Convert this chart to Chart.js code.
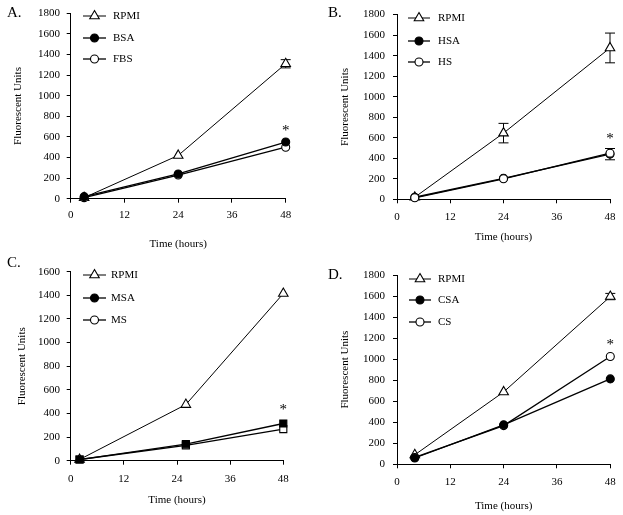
<!DOCTYPE html>
<html><head><meta charset="utf-8">
<script src="https://cdn.jsdelivr.net/npm/chart.js@4.4.1/dist/chart.umd.min.js"></script>
<style>
html,body{margin:0;padding:0;background:#fff;width:623px;height:515px;overflow:hidden}
.p{position:absolute}
.lbl{position:absolute;font-family:"Liberation Serif",serif;font-size:15px;color:#000;line-height:15px}
</style></head><body>
<div class="p" style="left:0;top:0"><canvas id="cA" width="311" height="255" style="width:311px;height:255px"></canvas></div>
<div class="p" style="left:311px;top:0"><canvas id="cB" width="312" height="255" style="width:312px;height:255px"></canvas></div>
<div class="p" style="left:0;top:255px"><canvas id="cC" width="311" height="260" style="width:311px;height:260px"></canvas></div>
<div class="p" style="left:311px;top:255px"><canvas id="cD" width="312" height="260" style="width:312px;height:260px"></canvas></div>
<div class="lbl" id="lA" style="left:7px;top:5px"></div>
<div class="lbl" id="lB" style="left:328px;top:5px"></div>
<div class="lbl" id="lC" style="left:7px;top:255px"></div>
<div class="lbl" id="lD" style="left:328px;top:267px"></div>
<script>
// ---------- data ----------
const panelLabels = ['A.', 'B.', 'C.', 'D.'];
const xTitle = 'Time (hours)';
const yTitle = 'Fluorescent Units';
const xTicks = [0, 12, 24, 36, 48];

// Panel A
const timesA = [3, 24, 48];
const namesA = ['RPMI', 'BSA', 'FBS'];
const rpmiA = [10, 420, 1310];
const rpmiErrA = [0, 0, 40];
const bsaA = [20, 240, 550];
const fbsA = [10, 230, 500];
const starA = [48, 690];

// Panel B
const timesB = [4, 24, 48];
const namesB = ['RPMI', 'HSA', 'HS'];
const rpmiB = [20, 645, 1475];
const rpmiErrB = [0, 95, 145];
const hsaB = [20, 205, 440];
const hsaErrB = [0, 0, 55];
const hsB = [15, 200, 450];
const starB = [48, 620];

// Panel C
const timesC = [2, 26, 48];
const namesC = ['RPMI', 'MSA', 'MS'];
const rpmiC = [10, 475, 1415];
const msaC = [10, 140, 315];
const msC = [10, 130, 268];
const starC = [48, 452];

// Panel D
const timesD = [4, 24, 48];
const namesD = ['RPMI', 'CSA', 'CS'];
const rpmiD = [90, 688, 1595];
const rpmiErrD = [0, 0, 30];
const csaD = [60, 375, 812];
const csD = [65, 368, 1025];
const starD = [48, 1160];

// ---------- helpers ----------
const FONT = '"Liberation Serif", "Times New Roman", serif';
const pts = (t, v) => t.map((x, i) => ({x: x, y: v[i]}));

function triSeries(label, t, v, err) {
  return {label, data: pts(t, v), errors: err, pointStyle: 'triangle', pointRadius: 5.5,
    pointBackgroundColor: '#fff', pointBorderColor: '#000', pointBorderWidth: 1.1,
    borderColor: '#000', borderWidth: 1, order: 3};
}
function dotSeries(label, t, v, filled, order, err, style) {
  return {label, data: pts(t, v), errors: err, pointStyle: style || 'circle',
    legendStyle: 'circle', pointRadius: style === 'rect' ? 5 : 4,
    pointBackgroundColor: filled ? '#000' : '#fff', pointBorderColor: '#000', pointBorderWidth: 1.1,
    borderColor: '#000', borderWidth: 1.3, order};
}

const errorBars = {
  id: 'errorBars',
  beforeDatasetsDraw(chart) {
    const ctx = chart.ctx, ys = chart.scales.y;
    ctx.save();
    ctx.strokeStyle = '#000'; ctx.lineWidth = 1;
    chart.data.datasets.forEach((ds, i) => {
      if (!ds.errors) return;
      const meta = chart.getDatasetMeta(i);
      ds.data.forEach((p, j) => {
        const e = ds.errors[j];
        if (!e) return;
        const x = meta.data[j].x;
        const t = ys.getPixelForValue(p.y + e), b = ys.getPixelForValue(p.y - e);
        ctx.beginPath();
        ctx.moveTo(x, t); ctx.lineTo(x, b);
        ctx.moveTo(x - 5, t); ctx.lineTo(x + 5, t);
        ctx.moveTo(x - 5, b); ctx.lineTo(x + 5, b);
        ctx.stroke();
      });
    });
    ctx.restore();
  }
};

const lineLegend = {
  id: 'lineLegend',
  afterDraw(chart, args, o) {
    if (!o || !o.rows) return;
    const ctx = chart.ctx;
    ctx.save();
    chart.data.datasets.forEach((ds, i) => {
      const y = o.rows[i];
      ctx.strokeStyle = '#000'; ctx.lineWidth = ds.borderWidth;
      ctx.beginPath(); ctx.moveTo(o.x1, y); ctx.lineTo(o.x2, y); ctx.stroke();
      ctx.fillStyle = ds.pointBackgroundColor; ctx.strokeStyle = ds.pointBorderColor;
      ctx.lineWidth = ds.pointBorderWidth;
      Chart.helpers.drawPoint(ctx, {pointStyle: ds.legendStyle || ds.pointStyle,
        radius: ds.legendStyle ? 4 : ds.pointRadius, borderWidth: ds.pointBorderWidth, rotation: 0},
        (o.x1 + o.x2) / 2, y);
      ctx.fillStyle = '#000';
      ctx.font = '11px ' + FONT;
      ctx.textBaseline = 'middle'; ctx.textAlign = 'left';
      ctx.fillText(ds.label, o.tx, y + 0.5);
    });
    ctx.restore();
  }
};

const starMark = {
  id: 'starMark',
  afterDraw(chart, args, o) {
    if (!o || !o.at) return;
    const ctx = chart.ctx;
    const x = chart.scales.x.getPixelForValue(o.at[0]);
    const y = chart.scales.y.getPixelForValue(o.at[1]);
    ctx.save();
    ctx.fillStyle = '#000';
    ctx.font = '15px ' + FONT;
    ctx.textAlign = 'center'; ctx.textBaseline = 'alphabetic';
    ctx.fillText('*', x, y + 7);
    ctx.restore();
  }
};

function makePanel(id, g, datasets, yMax, star) {
  const font = {family: FONT, size: 11};
  return new Chart(document.getElementById(id), {
    type: 'line',
    data: {datasets},
    options: {
      responsive: false, animation: false, events: [],
      layout: {padding: {left: 0, top: g.padTop, right: g.padRight, bottom: 0}},
      datasets: {line: {clip: false, tension: 0, fill: false}},
      plugins: {legend: {display: false}, tooltip: {enabled: false},
        lineLegend: g.legend, starMark: {at: star}},
      scales: {
        x: {type: 'linear', min: 0, max: 48, position: 'bottom',
          afterBuildTicks: s => { s.ticks = xTicks.map(v => ({value: v})); },
          ticks: {color: '#000', font, padding: g.xTickPad, maxRotation: 0, autoSkip: false,
            callback: v => String(v)},
          grid: {display: true, drawOnChartArea: false, drawTicks: true, tickLength: 4, color: '#000', lineWidth: 1},
          border: {display: true, color: '#000', width: 1},
          title: {display: true, text: xTitle, color: '#000', font, padding: {top: 0, bottom: g.xTitlePad}},
          afterFit: s => { s.height = g.xh; }
        },
        y: {type: 'linear', min: 0, max: yMax, position: 'left',
          ticks: {stepSize: 200, color: '#000', font, padding: g.yTickPad, callback: v => String(v)},
          grid: {display: true, drawOnChartArea: false, drawTicks: true, tickLength: 4, color: '#000', lineWidth: 1},
          border: {display: true, color: '#000', width: 1},
          title: {display: true, text: yTitle, color: '#000', font, padding: {top: g.yTitlePad, bottom: 0}},
          afterFit: s => { s.width = g.yw; }
        }
      }
    },
    plugins: [errorBars, lineLegend, starMark]
  });
}

['lA', 'lB', 'lC', 'lD'].forEach((id, i) => { document.getElementById(id).textContent = panelLabels[i]; });

makePanel('cA',
  {yw: 70.7, xh: 56.3, padTop: 8.5, padRight: 25.3, xTickPad: 5.7, yTickPad: 6.7, yTitlePad: 11.4, xTitlePad: 4.4,
   legend: {x1: 83, x2: 106, tx: 113, rows: [16, 38, 59]}},
  [triSeries(namesA[0], timesA, rpmiA, rpmiErrA),
   dotSeries(namesA[1], timesA, bsaA, true, 1),
   dotSeries(namesA[2], timesA, fbsA, false, 2)],
  1800, starA);

makePanel('cB',
  {yw: 86, xh: 55.7, padTop: 10, padRight: 13, xTickPad: 7.1, yTickPad: 8, yTitlePad: 27.4, xTitlePad: 11.4,
   legend: {x1: 97, x2: 119, tx: 127, rows: [18, 41, 62]}},
  [triSeries(namesB[0], timesB, rpmiB, rpmiErrB),
   dotSeries(namesB[1], timesB, hsaB, true, 2, hsaErrB),
   dotSeries(namesB[2], timesB, hsB, false, 1)],
  1800, starB);

makePanel('cC',
  {yw: 70.7, xh: 54.3, padTop: 16.7, padRight: 27.7, xTickPad: 7.7, yTickPad: 6.7, yTitlePad: 15.4, xTitlePad: 8.4,
   legend: {x1: 83, x2: 106, tx: 111, rows: [20, 43, 65]}},
  [triSeries(namesC[0], timesC, rpmiC),
   dotSeries(namesC[1], timesC, msaC, true, 1, null, 'rect'),
   dotSeries(namesC[2], timesC, msC, false, 2, null, 'rect')],
  1600, starC);

makePanel('cD',
  {yw: 86, xh: 50.7, padTop: 20, padRight: 12.7, xTickPad: 7.1, yTickPad: 8, yTitlePad: 27.4, xTitlePad: 2.4,
   legend: {x1: 98, x2: 120, tx: 127, rows: [24, 45, 67]}},
  [triSeries(namesD[0], timesD, rpmiD, rpmiErrD),
   dotSeries(namesD[1], timesD, csaD, true, 1),
   dotSeries(namesD[2], timesD, csD, false, 2)],
  1800, starD);
</script>
</body></html>
